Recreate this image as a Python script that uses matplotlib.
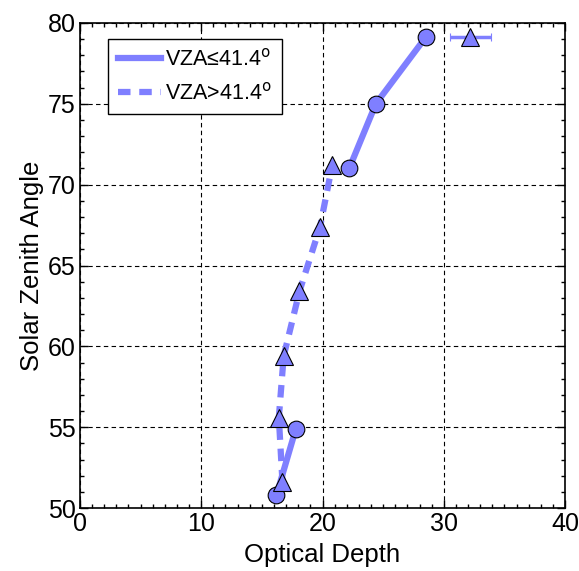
import matplotlib
matplotlib.use("Agg")
import matplotlib.pyplot as plt
import numpy as np
from matplotlib.ticker import MultipleLocator

plt.rcParams['font.family'] = ['Liberation Sans', 'DejaVu Sans']

# VZA <= 41.4 (circles, solid); NaN marks a gap in the line
low_tau = [16.2, 17.8, np.nan, 22.2, 24.4, 28.5]
low_sza = [50.8, 54.9, np.nan, 71.0, 75.0, 79.1]

# VZA > 41.4 (triangles, dashed)
high_tau = [16.7, 16.4, 16.8, 18.1, 19.8, 20.8]
high_sza = [51.6, 55.6, 59.4, 63.4, 67.4, 71.2]

# isolated high-VZA point with error bar
iso_tau = [32.2]
iso_sza = [79.1]
iso_err = [1.7]

color = '#7f7fff'

fig = plt.figure(figsize=(5.79, 5.71), dpi=100)
ax = fig.add_axes([0.138, 0.110, 0.838, 0.850])

ax.plot(low_tau, low_sza, '-', color=color, lw=4.5, zorder=3,
        label='VZA\u226441.4$^\\mathrm{o}$')
ax.plot(high_tau, high_sza, '--', color=color, lw=4.5, dashes=(2.0, 1.4), zorder=3,
        label='VZA>41.4$^\\mathrm{o}$')
ax.plot(low_tau, low_sza, 'o', ms=12, mfc=color, mec='black', mew=0.8, zorder=5)
ax.plot(high_tau, high_sza, '^', ms=13, mfc=color, mec='black', mew=0.8, zorder=5)
ax.errorbar(iso_tau, iso_sza, xerr=iso_err, fmt='^', ms=13, mfc=color, mec='black',
            mew=0.8, ecolor=color, elinewidth=2.5, capsize=3, capthick=2, zorder=5)

ax.set_xlim(0, 40)
ax.set_ylim(50, 80)
ax.xaxis.set_major_locator(MultipleLocator(10))
ax.yaxis.set_major_locator(MultipleLocator(5))
ax.xaxis.set_minor_locator(MultipleLocator(1))
ax.yaxis.set_minor_locator(MultipleLocator(1))
ax.tick_params(which='both', direction='in', top=True, right=True, labelsize=18,
               width=1)
ax.tick_params(which='major', length=6, pad=3)
ax.tick_params(which='minor', length=3)
ax.grid(True, which='major', linestyle=(0, (4, 3)), color='black', lw=0.8)
for s in ax.spines.values():
    s.set_linewidth(1.2)

ax.set_xlabel('Optical Depth', fontsize=18.5, labelpad=5)
ax.set_ylabel('Solar Zenith Angle', fontsize=18.5, labelpad=3)

leg = ax.legend(loc='upper left', bbox_to_anchor=(0.058, 0.967), borderaxespad=0,
                fontsize=15.5,
                frameon=True, fancybox=False, edgecolor='black', framealpha=1,
                handlelength=2.0, handletextpad=0.2, borderpad=0.45, labelspacing=0.55)
leg.get_frame().set_linewidth(1.0)

fig.savefig('out.png', dpi=100)
